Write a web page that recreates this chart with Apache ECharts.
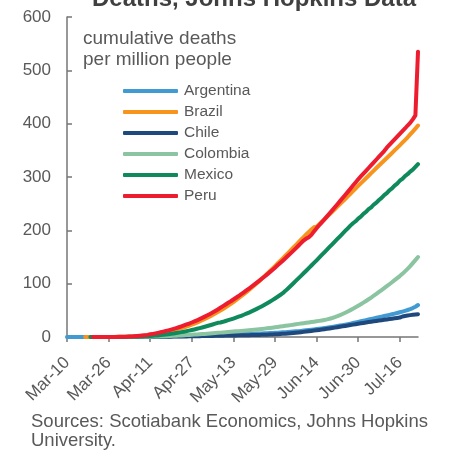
<!DOCTYPE html>
<html>
<head>
<meta charset="utf-8">
<script src="https://cdn.jsdelivr.net/npm/echarts@6/dist/echarts.min.js"></script>
<style>
  html, body { margin: 0; padding: 0; background: #fff; }
  #chart { width: 451px; height: 450px; }
</style>
</head>
<body>
<div id="chart"></div>
<script>
// Daily series from Mar-10 to Jul-23 (136 days), cumulative deaths per million people
const startDate = [2020, 2, 10];
const dayCount = 136;
const tickEvery = 16;
const yTicks = [0, 100, 200, 300, 400, 500, 600];

const countries = ['Argentina', 'Brazil', 'Chile', 'Colombia', 'Mexico', 'Peru'];
const colors = ['#419BD2', '#F7941D', '#1F497D', '#8AC4A0', '#0E8A5C', '#ED1C2E'];

const argentina = [
  0,0,0,0,0,0,0,0,0,0, 0,0,0,0,0,0,0,0,0,0,
  0.1,0.1,0.1,0.2,0.2,0.2,0.3,0.3,0.4,0.4,
  0.5,0.5,0.6,0.6,0.7,0.8,0.8,0.9,1.0,1.1,
  1.2,1.3,1.4,1.5,1.6,1.7,1.8,1.9,2.0,2.1,
  2.2,2.3,2.4,2.5,2.6,2.8,3.0,3.2,3.4,3.6,
  3.8,4.0,4.2,4.4,4.6,4.8,5.0,5.2,5.4,5.6,
  5.8,6.0,6.2,6.4,6.6,6.8,7.0,7.2,7.4,7.6,
  7.8,8.1,8.4,8.7,9.0,9.4,9.8,10.2,10.6,11.0,
  11.5,12.0,12.5,13.0,13.6,14.2,14.8,15.4,16.0,16.7,
  17.4,18.1,18.9,19.7,20.5,21.4,22.3,23.2,24.1,25.1,
  26.1,27.2,28.3,29.4,30.5,31.6,32.7,33.8,34.9,36.0,
  37.1,38.2,39.3,40.4,41.5,42.7,43.9,45.1,46.4,47.7,
  49.1,50.6,52.3,54.3,56.8,60.0
];

const brazil = [
  null,null,null,null,null,null,null,
  0,0,0,0,0,0,0,0,0.1,0.1,0.2,0.2,0.3,
  0.4,0.5,0.6,0.7,0.9,1.1,1.3,1.6,1.9,2.3,
  2.8,3.4,4.0,4.7,5.5,6.3,7.2,8.1,9.1,10.2,
  11.3,12.5,13.8,15.2,16.6,18.1,19.7,21.4,23.2,25.1,
  27.1,29.2,31.4,33.7,36.1,38.6,41.2,43.9,46.7,49.6,
  52.6,55.7,58.9,62.2,65.6,69.1,72.7,76.4,80.2,84.1,
  88.1,92.2,96.4,100.7,105.1,109.6,114.2,118.9,123.6,128.3,
  133.0,137.8,142.6,147.5,152.4,157.4,162.4,167.4,172.4,177.4,
  182.4,187.3,192.1,196.8,201.5,205.7,207.0,211.5,216.0,220.6,
  225.3,230.0,234.8,239.6,244.4,249.2,254.0,258.8,263.6,268.5,
  273.4,278.3,283.2,288.0,292.8,297.6,302.4,307.2,312.0,316.8,
  321.5,326.2,330.9,335.6,340.3,345.0,349.8,354.6,359.4,364.3,
  369.3,374.5,379.8,385.2,390.8,396.5
];

const chile = [
  null,null,null,null,null,null,null,null,null,null,null,null,null,null,
  0,0,0,0,0,0,
  0,0,0,0.1,0.1,0.1,0.1,0.2,0.2,0.2,
  0.3,0.3,0.3,0.4,0.4,0.5,0.5,0.6,0.6,0.7,
  0.7,0.8,0.8,0.9,1.0,1.0,1.1,1.2,1.3,1.4,
  1.5,1.6,1.7,1.8,1.9,2.0,2.1,2.2,2.3,2.4,
  2.5,2.6,2.7,2.8,2.9,3.0,3.1,3.2,3.3,3.4,
  3.5,3.6,3.7,3.8,3.9,4.0,4.2,4.4,4.6,4.8,
  5.0,5.3,5.6,5.9,6.3,6.7,7.1,7.5,8.0,8.5,
  9.0,9.6,10.2,10.8,11.4,12.0,12.6,13.2,13.9,14.6,
  15.3,16.0,16.8,17.6,18.4,19.2,20.0,20.8,21.6,22.4,
  23.2,24.0,24.8,25.6,26.4,27.2,28.0,28.7,29.4,30.1,
  30.8,31.5,32.2,32.9,33.6,34.3,35.0,35.7,36.4,38.5,
  39.5,40.3,41.0,41.6,42.2,42.8
];

const colombia = [
  null,null,null,null,null,null,null,null,null,null,null,null,
  0,0,0,0,0,0,0,0,
  0,0,0.1,0.1,0.1,0.2,0.2,0.3,0.3,0.4,
  0.5,0.6,0.7,0.8,0.9,1.0,1.2,1.4,1.6,1.8,
  2.0,2.2,2.4,2.7,3.0,3.3,3.6,3.9,4.2,4.5,
  4.8,5.1,5.4,5.8,6.2,6.6,7.0,7.4,7.8,8.2,
  8.6,9.0,9.4,9.8,10.2,10.6,11.0,11.4,11.8,12.2,
  12.6,13.1,13.6,14.1,14.6,15.1,15.7,16.3,16.9,17.5,
  18.1,18.8,19.5,20.2,20.9,21.6,22.3,23.0,23.8,24.6,
  25.2,25.9,26.6,27.3,28.0,28.7,29.4,30.2,31.1,32.0,
  33.0,34.2,35.6,37.2,39.0,41.0,43.2,45.5,47.9,50.4,
  53.0,55.7,58.5,61.4,64.4,67.5,70.7,74.0,77.4,80.9,
  84.5,88.0,91.6,95.2,98.9,102.7,106.5,110.3,114.2,118.4,
  123.0,127.8,132.8,138.5,144.2,150.0
];

const mexico = [
  null,null,null,null,null,null,null,null,null,
  0,0,0,0,0,0,0,0,0,0,0.1,
  0.1,0.2,0.2,0.3,0.4,0.5,0.6,0.7,0.9,1.1,
  1.3,1.6,1.9,2.2,2.6,3.0,3.5,4.0,4.6,5.2,
  5.9,6.6,7.4,8.2,9.1,10.0,11.0,12.0,13.1,14.2,
  15.4,16.6,17.9,19.2,20.6,22.0,23.5,25.0,26.6,27.2,
  28.5,30.0,31.5,33.0,34.6,36.3,38.0,39.8,41.7,43.7,
  45.8,48.0,50.3,52.7,55.2,57.8,60.5,63.3,66.2,69.2,
  72.3,75.5,78.8,82.2,86.5,91.0,95.6,100.3,105.1,109.9,
  114.7,119.5,124.3,129.1,134.0,138.9,143.8,148.8,153.8,158.8,
  163.8,168.8,173.8,178.8,183.8,188.8,193.8,198.8,203.8,208.8,
  213.2,217.0,222.1,225.8,230.9,234.5,239.6,243.1,248.4,252.0,
  256.9,260.8,265.9,269.6,275.0,278.6,283.9,287.7,293.0,296.5,
  301.6,305.2,310.1,313.8,318.9,324.0
];

const peru = [
  null,null,null,null,null,null,null,null,null,null,
  0,0,0,0,0,0,0,0.1,0.1,0.2,
  0.3,0.4,0.5,0.7,0.9,1.1,1.4,1.8,2.2,2.7,
  3.3,4.0,5.0,5.9,6.8,7.8,8.9,10.0,11.2,12.5,
  13.8,15.2,16.7,18.3,20.0,21.8,23.5,25.3,27.2,29.2,
  31.3,33.5,35.8,38.2,40.7,43.3,46.0,48.8,51.7,54.7,
  57.8,61.0,64.2,67.0,70.3,73.6,76.8,80.2,83.7,87.2,
  90.8,94.4,98.1,101.9,105.7,109.6,113.5,117.5,121.6,125.8,
  130.0,134.3,138.7,143.1,147.6,152.2,156.8,161.5,166.3,171.1,
  176.0,180.9,184.5,187.0,191.5,198.0,204.0,209.5,215.0,220.6,
  226.2,231.8,237.5,243.2,248.9,254.7,260.5,266.3,272.1,278.0,
  283.9,289.8,295.7,301.0,306.3,311.6,316.9,322.2,327.5,332.8,
  338.1,343.4,348.7,355.0,360.2,365.4,370.6,375.8,381.0,386.0,
  391.0,396.5,401.5,408.0,415.5,535.0
];

const seriesValues = [argentina, brazil, chile, colombia, mexico, peru];

// Build "Mon-DD" category labels, one per day
const monthNames = ['Jan','Feb','Mar','Apr','May','Jun','Jul','Aug','Sep','Oct','Nov','Dec'];
const categories = [];
for (let i = 0; i < dayCount; i++) {
  const d = new Date(startDate[0], startDate[1], startDate[2] + i);
  categories.push(monthNames[d.getMonth()] + '-' + String(d.getDate()).padStart(2, '0'));
}

const textGrey = '#595959';
const axisGrey = '#767676';
const font = 'Liberation Sans, Arial, sans-serif';

const chart = echarts.init(document.getElementById('chart'), null, { renderer: 'canvas' });

chart.setOption({
  animation: false,
  backgroundColor: '#ffffff',
  grid: { left: 67, right: 33, top: 17, bottom: 113, containLabel: false },
  graphic: [
    {
      type: 'text', x: 254, y: -13, z: 10,
      style: {
        text: 'Deaths, Johns Hopkins Data',
        align: 'center', verticalAlign: 'top',
        fill: '#404040', font: 'bold 24px ' + font
      }
    },
    {
      type: 'text', x: 83, y: 28,
      style: {
        text: 'cumulative deaths\nper million people',
        fill: textGrey, font: '19px ' + font, lineHeight: 21
      }
    },
    {
      type: 'text', x: 31, y: 412,
      style: {
        text: 'Sources: Scotiabank Economics, Johns Hopkins\nUniversity.',
        fill: textGrey, font: '18.5px ' + font, lineHeight: 19
      }
    }
  ],
  legend: {
    orient: 'vertical',
    left: 118, top: 78,
    itemWidth: 55, itemHeight: 4,
    itemGap: 5,
    icon: 'roundRect',
    textStyle: { color: textGrey, fontSize: 15.5, fontFamily: font, lineHeight: 16, padding: [0, 0, 0, 1] },
    data: countries
  },
  xAxis: {
    type: 'category',
    data: categories,
    boundaryGap: false,
    axisLine: { lineStyle: { color: axisGrey, width: 1.5 } },
    axisTick: { show: true, interval: tickEvery - 1, length: 5, lineStyle: { color: axisGrey, width: 1.5 } },
    axisLabel: {
      interval: tickEvery - 1, rotate: 45, margin: 23,
      color: textGrey, fontSize: 17, fontFamily: font
    },
    splitLine: { show: false }
  },
  yAxis: {
    type: 'value',
    min: yTicks[0], max: yTicks[yTicks.length - 1], interval: 100,
    axisLine: { show: true, lineStyle: { color: axisGrey, width: 1.5 } },
    axisTick: { show: true, inside: true, length: 5, lineStyle: { color: axisGrey, width: 1.5 } },
    axisLabel: { margin: 16, color: textGrey, fontSize: 17, fontFamily: font },
    splitLine: { show: false }
  },
  series: countries.map((name, i) => ({
    name: name,
    type: 'line',
    data: seriesValues[i],
    showSymbol: false,
    symbol: 'none',
    smooth: false,
    color: colors[i],
    lineStyle: { width: 4, color: colors[i], cap: 'round', join: 'round' },
    z: 2 + i
  }))
});
</script>
</body>
</html>
